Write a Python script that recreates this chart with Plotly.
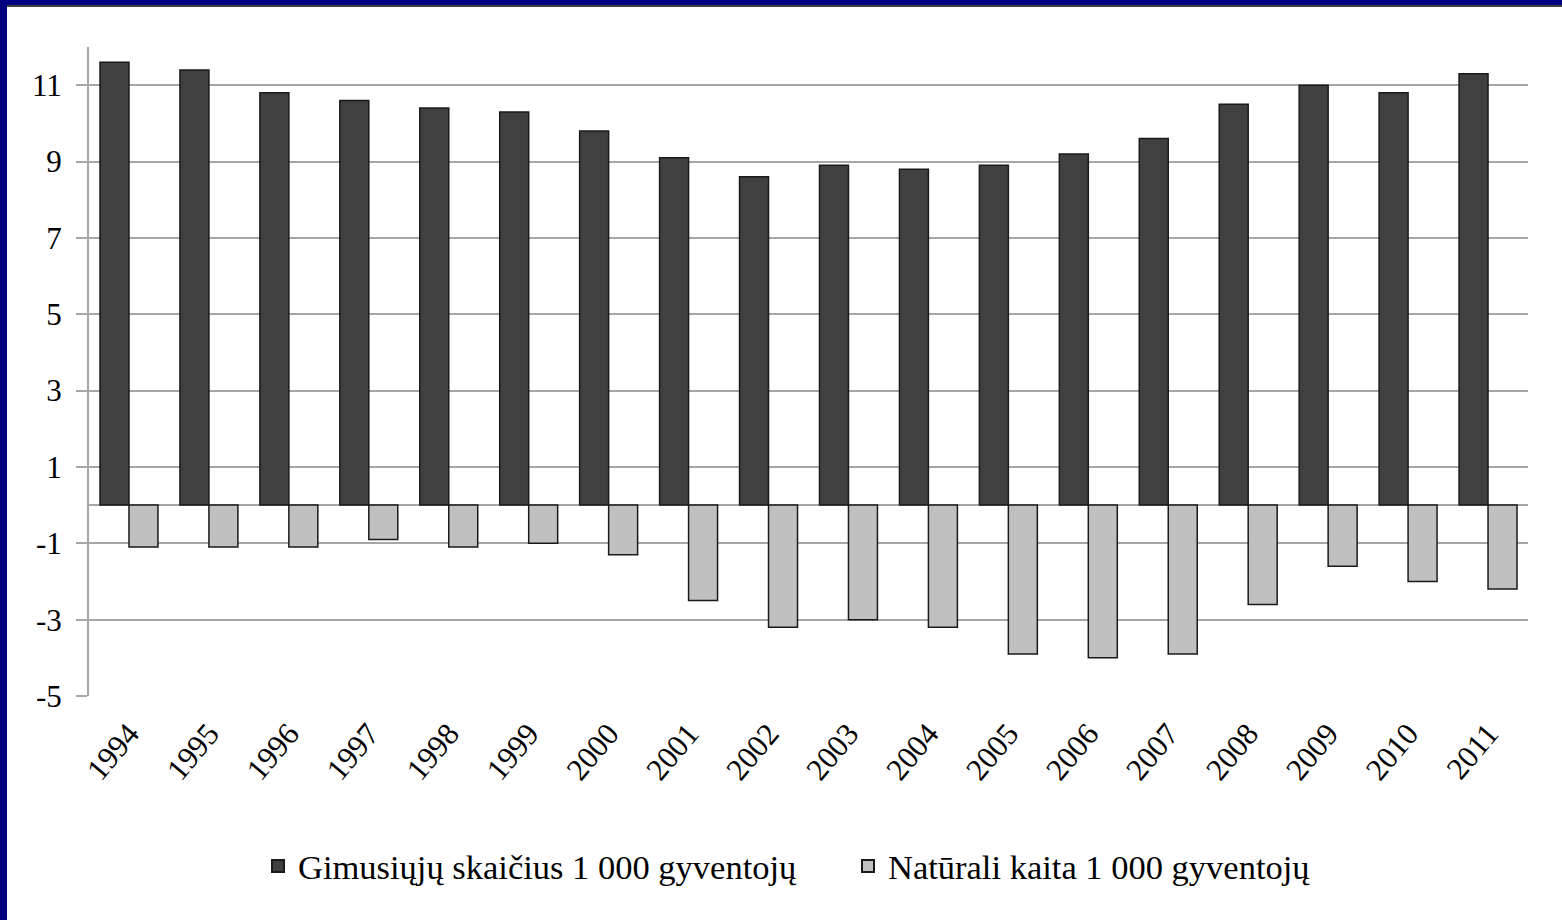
import plotly.graph_objects as go

years = ["1994", "1995", "1996", "1997", "1998", "1999", "2000", "2001", "2002",
         "2003", "2004", "2005", "2006", "2007", "2008", "2009", "2010", "2011"]
births = [11.6, 11.4, 10.8, 10.6, 10.4, 10.3, 9.8, 9.1, 8.6,
          8.9, 8.8, 8.9, 9.2, 9.6, 10.5, 11.0, 10.8, 11.3]
natural = [-1.1, -1.1, -1.1, -0.9, -1.1, -1.0, -1.3, -2.5, -3.2,
           -3.0, -3.2, -3.9, -4.0, -3.9, -2.6, -1.6, -2.0, -2.2]
yticks = [-5, -3, -1, 1, 3, 5, 7, 9, 11]
yticklabels = ["-5", "-3", "-1", "1", "3", "5", "7", "9", "11"]
names = ["Gimusiųjų skaičius 1 000 gyventojų", "Natūrali kaita 1 000 gyventojų"]

W, H = 1562, 920
ml, mr, mt, mb = 89, 34, 47, 224
pw, ph = W - ml - mr, H - mt - mb

font = "Liberation Serif, Times New Roman, serif"

fig = go.Figure()
fig.add_trace(go.Bar(x=years, y=births, name=names[0],
                     marker=dict(color="#404040", line=dict(color="#1a1a1a", width=1.5))))
fig.add_trace(go.Bar(x=years, y=natural, name=names[1],
                     marker=dict(color="#c0c0c0", line=dict(color="#1a1a1a", width=1.5))))

def px_x(p):
    return (p - ml) / pw

def px_y(p):
    return (H - mb - p) / ph

shapes = [
    dict(type="rect", xref="paper", yref="paper", x0=px_x(0), x1=px_x(7),
         y0=px_y(H), y1=px_y(0), fillcolor="#000080", line=dict(width=0), layer="above"),
    dict(type="rect", xref="paper", yref="paper", x0=px_x(0), x1=px_x(W),
         y0=px_y(5), y1=px_y(0), fillcolor="#000080", line=dict(width=0), layer="above"),
    dict(type="line", xref="paper", yref="paper", x0=px_x(7), x1=px_x(W),
         y0=px_y(6), y1=px_y(6), line=dict(color="#404040", width=2), layer="above"),
]

fig.update_layout(
    width=W, height=H,
    margin=dict(l=ml, r=mr, t=mt, b=mb, pad=0),
    paper_bgcolor="white", plot_bgcolor="white",
    barmode="group", bargap=0.275, bargroupgap=0,
    font=dict(family=font, size=30, color="black"),
    showlegend=True,
    legend=dict(orientation="h", x=px_x(848), xanchor="center", y=px_y(866), yanchor="middle",
                font=dict(family=font, size=34.5), itemwidth=30, tracegroupgap=0,
                itemsizing="constant", entrywidth=545, entrywidthmode="pixels"),
    shapes=shapes,
)
fig.update_xaxes(type="category", tickangle=-50, showgrid=False, showline=False,
                 ticks="outside", ticklen=6, tickcolor="rgba(0,0,0,0)",
                 tickfont=dict(family=font, size=31))
fig.update_yaxes(range=[-5, 12], tickvals=yticks, ticktext=yticklabels,
                 showgrid=True, gridcolor="#a6a6a6",
                 gridwidth=2, zeroline=True, zerolinecolor="#a6a6a6", zerolinewidth=2,
                 showline=True, linecolor="#a6a6a6", linewidth=2,
                 ticks="outside", ticklen=11, tickcolor="#a6a6a6", tickwidth=2,
                 tickfont=dict(family=font, size=31), ticklabelstandoff=8)

fig.write_html("out.html", config={"displayModeBar": False},
               post_script="document.body.style.margin='0';document.body.style.padding='0';")
